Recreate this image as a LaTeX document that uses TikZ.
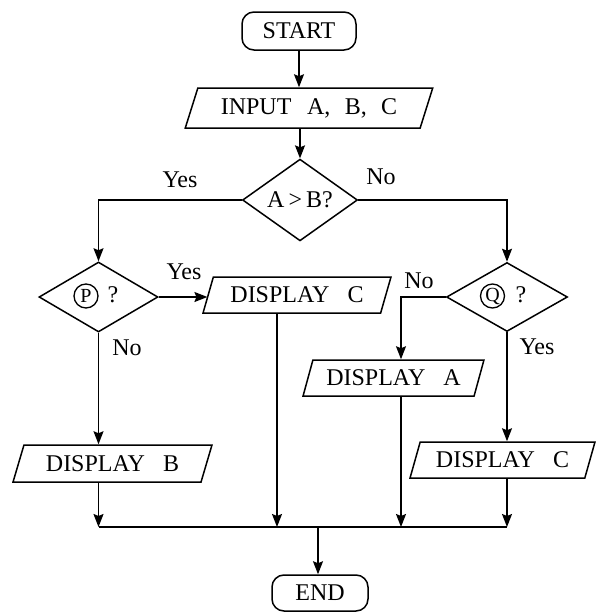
\documentclass[tikz,border=0pt]{standalone}
\usepackage{fontspec}
\setmainfont{Liberation Serif}
\usetikzlibrary{shapes.geometric,arrows.meta}
\begin{document}
\begin{tikzpicture}[x=1pt,y=-1pt,
  every node/.style={font=\fontsize{24}{28}\selectfont},
  line/.style={line width=1.5pt},
  arr/.style={line, -{Stealth[length=13pt,width=10pt,inset=2pt]}},
  term/.style={draw, line width=1.5pt, rounded corners=12pt, minimum height=38pt, inner sep=0pt},
  io/.style={draw, line width=1.5pt, trapezium, trapezium left angle=63, trapezium right angle=117, trapezium stretches=true, minimum height=36pt, inner sep=0pt},
  dec/.style={draw, line width=1.5pt, diamond, inner sep=0pt},
  circ/.style={draw, circle, line width=1.3pt, minimum size=24pt, inner sep=0pt, font=\fontsize{20}{22}\selectfont},
  lbl/.style={inner sep=0pt}]
\useasboundingbox (0,0) rectangle (596,613);
% nodes
\node[term, minimum width=114pt] (start) at (299,31) {START};
\node[io, minimum width=248pt, minimum height=40pt] (inp) at (309,108) {INPUT\hspace{0.4em} A,\hspace{0.35em} B,\hspace{0.35em} C};
\node[dec, minimum width=115pt, minimum height=66pt] (d1) at (300,200) {A\,>\,B?};
\node[dec, minimum width=119pt, minimum height=70pt] (p) at (98.5,297) {};
\node[circ] (pl) at (86,296) {P};
\node[lbl] (pq) at (113,295) {?};
\node[dec, minimum width=121pt, minimum height=69pt] (q) at (507,297) {};
\node[circ] (ql) at (492.5,296) {Q};
\node[lbl] (qq) at (521,295) {?};
\node[io, minimum width=188pt] (pc) at (297,295) {DISPLAY\hspace{0.5em} C};
\node[io, minimum width=181pt] (pa) at (393.5,378) {DISPLAY\hspace{0.5em} A};
\node[io, minimum width=199pt, minimum height=37pt] (pb) at (112.5,463.5) {DISPLAY\hspace{0.5em} B};
\node[io, minimum width=185pt] (pcr) at (502.5,460) {DISPLAY\hspace{0.5em} C};
\node[term, minimum width=96pt, minimum height=36pt] (end) at (320,593) {END};
% junction coordinates
\coordinate (mrg) at (318,527);
\coordinate (cx) at (277,527);
\coordinate (ax) at (401,527);
% connectors
\draw[arr] (start.south) -- (start.south |- inp.north);
\draw[arr] (d1.north |- inp.south) -- (d1.north);
\draw[arr] (d1.west) -| (p.north);
\draw[arr] (d1.east) -| (q.north);
\draw[arr] (p.east) -- (p.east -| pc.west);
\draw[arr] (p.south) -- (p.south |- pb.north);
\draw[arr] (q.west) -| (ax |- pa.north);
\draw[arr] (q.south) -- (q.south |- pcr.north);
\draw[arr] (p.south |- pb.south) -- (p.south |- mrg);
\draw[arr] (cx |- pc.south) -- (cx);
\draw[arr] (ax |- pa.south) -- (ax);
\draw[arr] (q.south |- pcr.south) -- (q.south |- mrg);
\draw[line] (p.south |- mrg) -- (q.south |- mrg);
\draw[arr] (mrg) -- (mrg |- end.north);
% labels
\node[lbl] (l1) at (180,180) {Yes};
\node[lbl] (l2) at (381,177) {No};
\node[lbl] (l3) at (184,272) {Yes};
\node[lbl] (l4) at (127,348) {No};
\node[lbl] (l5) at (419,281) {No};
\node[lbl] (l6) at (537,347) {Yes};
\end{tikzpicture}
\end{document}
